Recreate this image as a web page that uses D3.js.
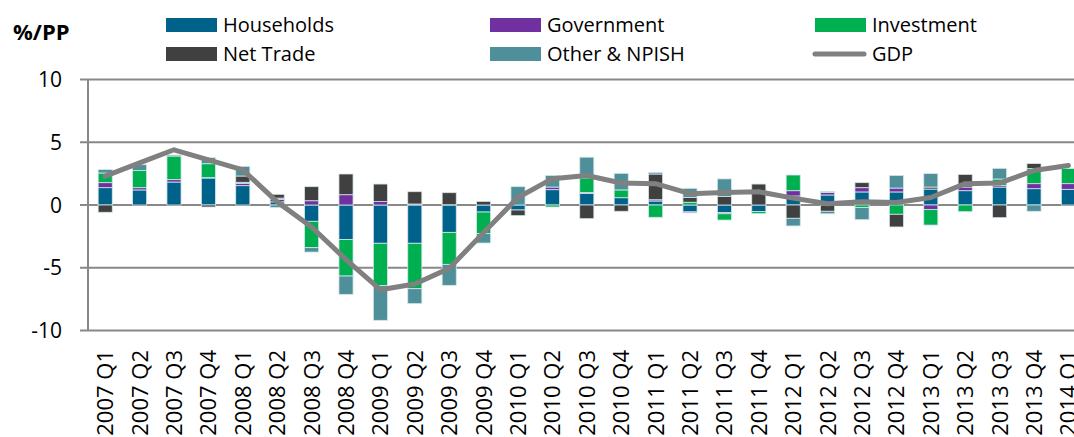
<!DOCTYPE html>
<html><head><meta charset="utf-8">
<script src="https://cdn.jsdelivr.net/npm/d3@7"></script>
<style>
html,body{margin:0;padding:0;background:#fff;overflow:hidden;}
svg text{font-family:"Open Sans",sans-serif;fill:#000;}
</style></head>
<body><svg id="chart" width="1074" height="437"></svg>
<script>
const categories = ["2007 Q1","2007 Q2","2007 Q3","2007 Q4","2008 Q1","2008 Q2","2008 Q3","2008 Q4","2009 Q1","2009 Q2","2009 Q3","2009 Q4","2010 Q1","2010 Q2","2010 Q3","2010 Q4","2011 Q1","2011 Q2","2011 Q3","2011 Q4","2012 Q1","2012 Q2","2012 Q3","2012 Q4","2013 Q1","2013 Q2","2013 Q3","2013 Q4","2014 Q1"];
const households = [1.38,1.20,1.83,2.15,1.54,0.25,-1.30,-2.74,-3.05,-3.05,-2.18,-0.56,-0.40,1.22,0.92,0.58,0.32,-0.55,-0.60,-0.53,0.72,0.80,1.04,1.04,1.27,1.14,1.43,1.30,1.25];
const government = [0.40,0.18,0.19,0.03,0.19,0.20,0.34,0.82,0.27,0.08,0.02,0.00,0.00,0.21,0.08,0.00,0.10,-0.08,-0.10,0.00,0.42,0.20,0.34,0.31,-0.35,0.29,0.14,0.40,0.45];
const investment = [0.77,1.36,1.88,1.11,0.08,0.10,-2.10,-2.92,-3.38,-3.62,-2.55,-1.72,0.00,-0.16,1.16,0.62,-0.98,0.22,-0.50,-0.16,1.25,0.08,-0.19,-0.74,-1.25,-0.53,0.50,1.20,1.20];
const netTrade = [-0.58,0.00,0.08,-0.16,0.50,0.30,1.12,1.65,1.40,0.98,0.96,0.29,-0.45,0.00,-1.09,-0.50,2.05,0.39,0.67,1.67,-1.06,-0.50,0.40,-1.01,0.16,1.01,-1.01,0.40,0.00];
const otherNPISH = [0.27,0.47,0.00,0.48,0.77,-0.20,-0.35,-1.46,-2.76,-1.19,-1.67,-0.75,1.46,0.93,1.65,1.32,0.13,0.72,1.41,0.00,-0.61,-0.20,-0.98,1.01,1.07,0.00,0.85,-0.50,0.00];
const gdp = [2.3,3.35,4.4,3.6,2.8,0.25,-1.75,-4.35,-6.75,-6.3,-5.05,-2.2,0.6,2.1,2.35,1.75,1.7,0.9,1.0,1.05,0.55,0.1,0.25,0.2,0.6,1.7,1.75,2.75,3.15];
const yTicks = [-10,-5,0,5,10];
const seriesNames = ["Households","Government","Investment","Net Trade","Other & NPISH"];
const seriesData = [households, government, investment, netTrade, otherNPISH];
const colors = ["#00628b","#7030a0","#00b050","#404040","#4f8f9a"];
const gdpColor = "#808080";

const svg = d3.select("#chart");
const plotLeft = 88, plotTop = 79.5, plotBottom = 330.5;
const step = 34.4;
const x = d3.scaleBand().domain(categories).range([plotLeft, plotLeft + step*categories.length]).paddingInner(0.59).paddingOuter(0.295);
const y = d3.scaleLinear().domain([-10,10]).range([plotBottom, plotTop]);

// grid lines
svg.append("g").selectAll("line").data(yTicks).join("line")
  .attr("x1", 80).attr("x2", 1074)
  .attr("y1", d => y(d)).attr("y2", d => y(d))
  .attr("stroke", "#888").attr("stroke-width", 2);
// vertical axis
svg.append("line").attr("x1", plotLeft).attr("x2", plotLeft).attr("y1", y(10)).attr("y2", y(-10))
  .attr("stroke", "#888").attr("stroke-width", 2);
// y labels
svg.append("g").selectAll("text").data(yTicks).join("text")
  .attr("x", 62).attr("y", d => y(d)).attr("dy", "0.36em")
  .attr("text-anchor", "end").attr("font-size", 21).text(d => d);

// stacked data
const rows = categories.map((c, i) => {
  const r = {cat: c};
  seriesNames.forEach((s, k) => r[s] = seriesData[k][i]);
  return r;
});
const stack = d3.stack().keys(seriesNames).offset(d3.stackOffsetDiverging);
const layers = stack(rows);
svg.append("g").selectAll("g").data(layers).join("g")
  .attr("fill", (d, i) => colors[i])
  .selectAll("rect").data(d => d).join("rect")
  .attr("x", d => x(d.data.cat))
  .attr("width", x.bandwidth())
  .attr("y", d => y(Math.max(d[0], d[1])))
  .attr("height", d => Math.abs(y(d[0]) - y(d[1])))
  .attr("stroke", "#d6e6ea").attr("stroke-width", 0.8);

// GDP line
const line = d3.line().x((d, i) => x(categories[i]) + x.bandwidth()/2).y(d => y(d));
svg.append("path").datum(gdp).attr("d", line)
  .attr("fill", "none").attr("stroke", gdpColor).attr("stroke-width", 5)
  .attr("stroke-linejoin", "round").attr("stroke-linecap", "round");

// x labels
svg.append("g").selectAll("text").data(categories).join("text")
  .attr("transform", d => `translate(${x(d) + x.bandwidth()/2},350) rotate(-90)`)
  .attr("dy", "0.36em").attr("text-anchor", "end").attr("font-size", 22).text(d => d);

// title
svg.append("text").attr("x", 13).attr("y", 40).attr("font-size", 22).attr("font-weight", "bold").text("%/PP");

// legend
const legendItems = [
  {name:"Households", c:colors[0], sx:166, row:0},
  {name:"Government", c:colors[1], sx:490, row:0},
  {name:"Investment", c:colors[2], sx:815, row:0},
  {name:"Net Trade", c:colors[3], sx:166, row:1},
  {name:"Other & NPISH", c:colors[4], sx:490, row:1},
  {name:"GDP", c:gdpColor, sx:815, row:1, line:true}
];
const lg = svg.append("g");
legendItems.forEach(it => {
  const y0 = it.row === 0 ? 18 : 47;
  if (it.line) {
    lg.append("line").attr("x1", it.sx).attr("x2", it.sx + 49).attr("y1", y0 + 7).attr("y2", y0 + 7)
      .attr("stroke", it.c).attr("stroke-width", 5).attr("stroke-linecap", "round");
  } else {
    lg.append("rect").attr("x", it.sx).attr("y", y0).attr("width", 51).attr("height", 14).attr("fill", it.c);
  }
  lg.append("text").attr("x", it.sx + 57).attr("y", y0 + 14).attr("font-size", 20).text(it.name);
});
</script>
</body></html>
